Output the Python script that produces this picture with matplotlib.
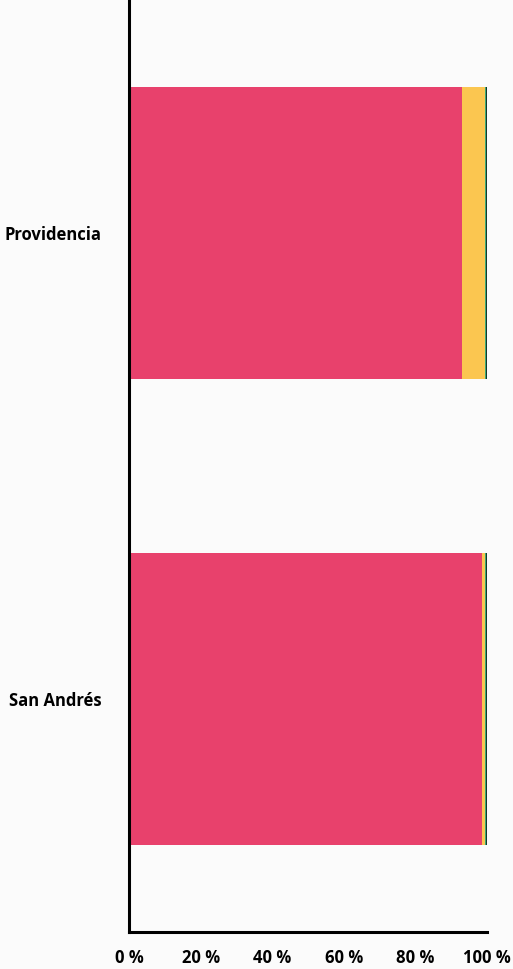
import numpy as np
import matplotlib.pyplot as plt

regions = ['San Andrés', 'Providencia']
red = [98.6, 93.0]
yellow = [0.8, 6.4]
green = [0.4, 0.4]
dark = [0.2, 0.2]
series = [red, yellow, green, dark]
colors = ['#E8416C', '#FBC650', '#3DAA78', '#17372A']
xticks = [0, 20, 40, 60, 80, 100]

plt.rcParams['font.family'] = ['Open Sans', 'DejaVu Sans']

fig = plt.figure(figsize=(5.13, 9.69), dpi=100)
ax = fig.add_axes([129/513, 1 - 932/969, 358/513, 932/969])

y = np.arange(len(regions))
left = np.zeros(len(regions))
for vals, c in zip(series, colors):
    ax.barh(y, vals, height=0.627, left=left, color=c)
    left += np.array(vals)

ax.set_xlim(0, 100)
ax.set_ylim(-0.5, 1.5)
ax.set_yticks(y, regions, fontsize=12, fontweight='bold')
ax.set_xticks(xticks, [f'{v} %' for v in xticks], fontsize=12, fontweight='bold')
ax.tick_params(length=0)
ax.tick_params(axis='y', pad=20)
ax.tick_params(axis='x', pad=12)
for s in ['top', 'right']:
    ax.spines[s].set_visible(False)
for s in ['left', 'bottom']:
    ax.spines[s].set_linewidth(2.2)
    ax.spines[s].set_color('black')
ax.set_facecolor('none')
fig.patch.set_facecolor('#fbfbfb')

fig.savefig('out.png', dpi=100)
